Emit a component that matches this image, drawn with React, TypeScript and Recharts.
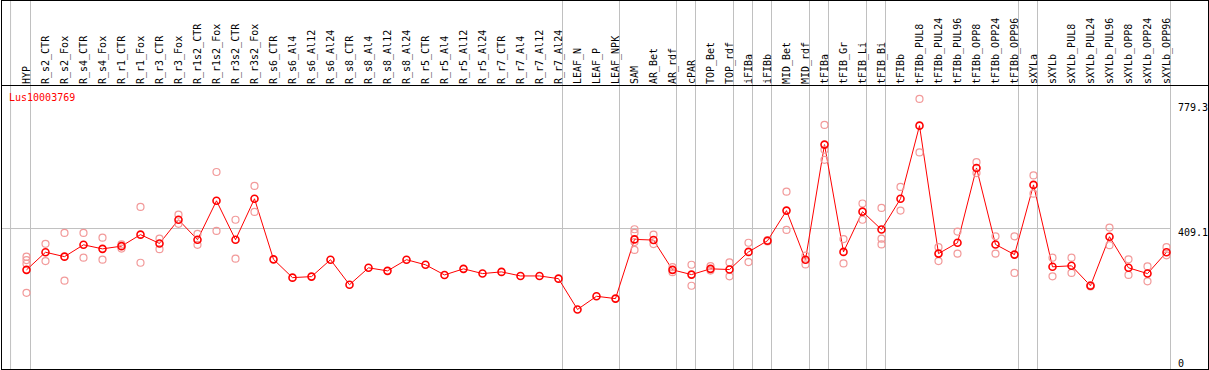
import React from "react";
import {
  ComposedChart,
  Line,
  Scatter,
  XAxis,
  YAxis,
  ReferenceLine,
} from "recharts";

const GENE_ID = "Lus10003769";

const CATEGORIES = [
  "HYP", "R_s2_CTR", "R_s2_Fox", "R_s4_CTR", "R_s4_Fox", "R_r1_CTR", "R_r1_Fox",
  "R_r3_CTR", "R_r3_Fox", "R_r1s2_CTR", "R_r1s2_Fox", "R_r3s2_CTR", "R_r3s2_Fox",
  "R_s6_CTR", "R_s6_Al4", "R_s6_Al12", "R_s6_Al24", "R_s8_CTR", "R_s8_Al4",
  "R_s8_Al12", "R_s8_Al24", "R_r5_CTR", "R_r5_Al4", "R_r5_Al12", "R_r5_Al24",
  "R_r7_CTR", "R_r7_Al4", "R_r7_Al12", "R_r7_Al24", "LEAF_N", "LEAF_P", "LEAF_NPK",
  "SAM", "AR_Bet", "AR_rdf", "cPAR", "TOP_Bet", "TOP_rdf", "iFIBa", "iFIBb",
  "MID_Bet", "MID_rdf", "tFIBa", "tFIB_Gr", "tFIB_Li", "tFIB_Bi", "tFIBb",
  "tFIBb_PUL8", "tFIBb_PUL24", "tFIBb_PUL96", "tFIBb_OPP8", "tFIBb_OPP24",
  "tFIBb_OPP96", "sXYLa", "sXYLb", "sXYLb_PUL8", "sXYLb_PUL24", "sXYLb_PUL96",
  "sXYLb_OPP8", "sXYLb_OPP24", "sXYLb_OPP96",
];

// mean expression per sample
const MEANS = [
  287, 339, 326, 361, 349, 357, 391, 365, 435, 376, 491, 376, 497,
  318, 264, 267, 317, 243, 293, 284, 317, 302, 272, 290, 276, 281, 269, 269, 261,
  170, 209, 202,
  377, 375, 287, 273, 290, 288, 340, 373, 462, 317, 657, 340, 459, 406,
  497, 713, 335, 367, 588, 362, 332,
  538, 296, 299, 240, 385, 293, 276, 339,
];

// individual replicates (null = none shown)
const N = null;
const REP_1 = [
  326, 364, 396, 396, 382, 362, 473, 379, 450, 393, 576, 435, 535,
  N, N, N, N, N, N, N, N, N, N, N, N, N, N, N, N,
  N, N, N,
  407, 391, 295, 302, 298, 309, 367, 375, 518, 329, 715, 378, 483, 470,
  532, 792, 354, 400, 605, 386, 386,
  566, 323, 323, 242, 412, 318, 297, 354,
];
const REP_2 = [
  316, 313, 255, 323, 317, 350, 308, 348, 423, 361, 402, 320, 458,
  N, N, N, N, N, N, N, N, N, N, N, N, N, N, N, N,
  N, N, N,
  396, 363, 280, 240, 285, 268, 310, 371, 405, 303, 642, 306, 435, 379,
  462, 634, 313, 335, 573, 335, 278,
  512, 268, 278, 238, 360, 272, 253, 330,
];
const REP_3 = [
  305, N, N, N, N, N, N, N, N, N, N, N, N,
  N, N, N, N, N, N, N, N, N, N, N, N, N, N, N, N,
  N, N, N,
  369, N, N, N, N, N, N, N, N, N, 612, N, N, 362,
  N, N, N, N, N, N, N,
  N, N, N, N, N, N, N, N,
];
const REP_4 = [
  219, N, N, N, N, N, N, N, N, N, N, N, N,
  N, N, N, N, N, N, N, N, N, N, N, N, N, N, N, N,
  N, N, N,
  346, N, N, N, N, N, N, N, N, N, N, N, N, N,
  N, N, N, N, N, N, N,
  N, N, N, N, N, N, N, N,
];

// last sample index of each group (separators drawn after them)
const GROUP_ENDS = [-1.05, 0, 28, 31, 34, 35, 37, 38, 39, 41, 42, 44, 45, 52, 53, 60];
const Y_TICKS = [0, 409.1, 779.3];

const W = 1209;
const H = 370;
const PX_PER_UNIT = 0.3385;
const PLOT_H = 369;
const ZERO_Y = 367;
const Y_MIN = (ZERO_Y - PLOT_H) / PX_PER_UNIT;
const Y_MAX = ZERO_Y / PX_PER_UNIT;
const STEP = 19;
const X_MIN = -25.5 / STEP;
const X_MAX = X_MIN + 1170 / STEP;

const FONT = "'DejaVu Sans Mono', monospace";

const chartData = CATEGORIES.map((name, i) => ({ x: i, name, mean: MEANS[i] }));
const repPoints = [REP_1, REP_2, REP_3, REP_4].flatMap((arr) =>
  arr
    .map((v, i) => (v == null ? null : { x: i, y: v }))
    .filter((p): p is { x: number; y: number } => p !== null)
);

function HeaderTick(props: any) {
  const { x, payload } = props;
  return (
    <text
      transform={`translate(${x + 3},84) rotate(-90)`}
      fontSize={10}
      fontFamily={FONT}
      fill="#000"
      textAnchor="start"
    >
      {CATEGORIES[payload.value]}
    </text>
  );
}

function ValueTick(props: any) {
  const { x, y, payload } = props;
  // zero label sits above its line, the others hang below
  const baseline = payload.value === 0 ? y : y + 7.5;
  return (
    <text x={x} y={baseline} fontSize={10} fontFamily={FONT} fill="#000" textAnchor="start">
      {payload.value}
    </text>
  );
}

function RepDot(props: any) {
  const { cx, cy } = props;
  return <circle cx={cx} cy={cy} r={3.5} fill="none" stroke="#f29a9a" strokeWidth={1.2} />;
}

export default function App() {
  return (
    <div style={{ position: "absolute", left: 0, top: 0, width: W, height: H, background: "#fff" }}>
      <ComposedChart
        width={W}
        height={H}
        data={chartData}
        margin={{ top: 0, right: 0, bottom: 1, left: 1 }}
      >
        <XAxis
          type="number"
          dataKey="x"
          orientation="top"
          mirror
          domain={[X_MIN, X_MAX]}
          allowDataOverflow
          ticks={CATEGORIES.map((_, i) => i)}
          interval={0}
          axisLine={false}
          tickLine={false}
          tick={<HeaderTick />}
        />
        <YAxis
          type="number"
          orientation="right"
          width={38}
          domain={[Y_MIN, Y_MAX]}
          allowDataOverflow
          ticks={Y_TICKS}
          interval={0}
          axisLine={false}
          tickLine={false}
          tickSize={7}
          tickMargin={0}
          tick={<ValueTick />}
        />
        <ReferenceLine y={409.1} stroke="#c0c0c0" strokeWidth={1} />
        {GROUP_ENDS.map((g) => (
          <ReferenceLine key={g} x={g + 4 / STEP} stroke="#c0c0c0" strokeWidth={1} />
        ))}
        <Scatter
          data={repPoints}
          dataKey="y"
          shape={<RepDot />}
          isAnimationActive={false}
        />
        <Line
          dataKey="mean"
          stroke="#ff0000"
          strokeWidth={1}
          dot={{ r: 3.5, stroke: "#ff0000", strokeWidth: 1.6, fill: "none" }}
          activeDot={false}
          isAnimationActive={false}
        />
      </ComposedChart>
      <svg
        width={W}
        height={H}
        style={{ position: "absolute", left: 0, top: 0, pointerEvents: "none" }}
      >
        <text x={9} y={101} fontSize={10} fontFamily={FONT} fill="#ff0000">
          {GENE_ID}
        </text>
      </svg>
      <div
        style={{
          position: "absolute",
          left: 1,
          top: 0,
          width: W - 1,
          height: 86,
          borderBottom: "1px solid #000",
          boxSizing: "border-box",
          pointerEvents: "none",
        }}
      />
      <div
        style={{
          position: "absolute",
          left: 1,
          top: 0,
          width: W - 1,
          height: H,
          border: "1px solid #000",
          boxSizing: "border-box",
          pointerEvents: "none",
        }}
      />
    </div>
  );
}
